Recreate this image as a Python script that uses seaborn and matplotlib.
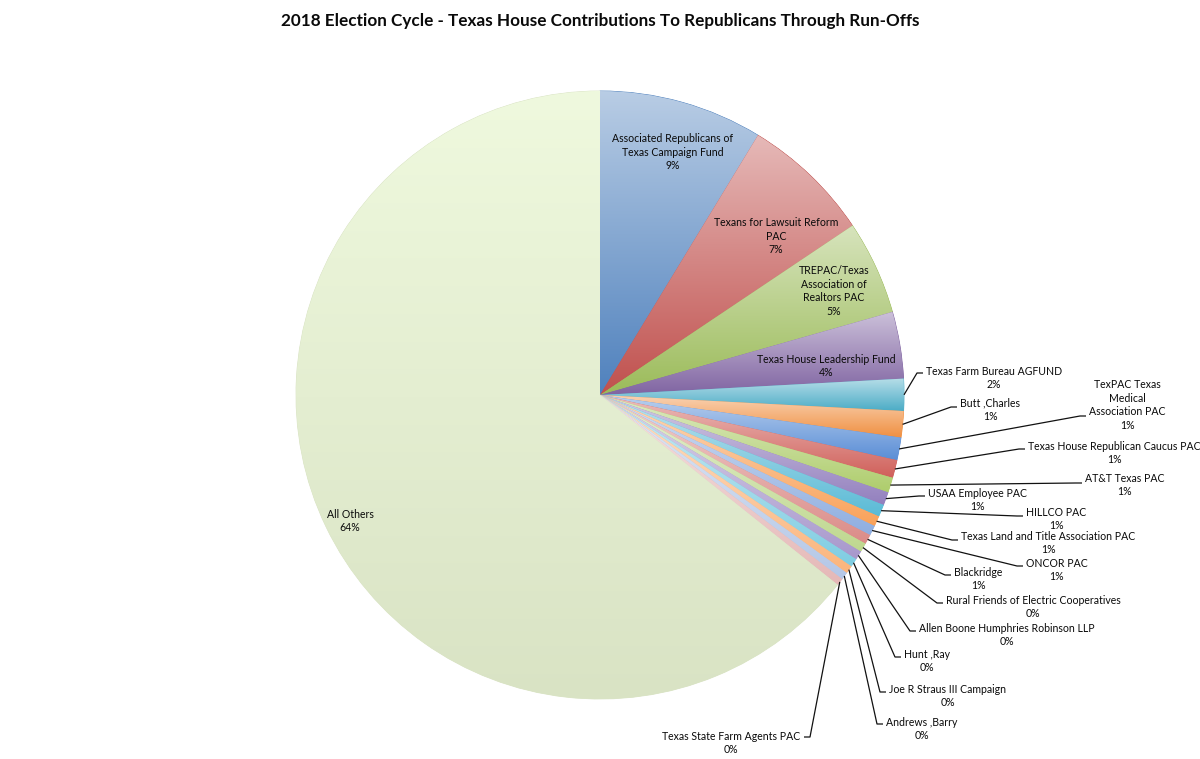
import numpy as np
import matplotlib
matplotlib.use("Agg")
import matplotlib.pyplot as plt
import seaborn as sns
from matplotlib.colors import to_rgb, LinearSegmentedColormap

sns.set_theme(style="white")
plt.rcParams['font.family'] = ['Lato', 'DejaVu Sans']

# ---------------- data ----------------
title = "2018 Election Cycle - Texas House Contributions To Republicans Through Run-Offs"
labels = [
    "Associated Republicans of\nTexas Campaign Fund",
    "Texans for Lawsuit Reform\nPAC",
    "TREPAC/Texas\nAssociation of\nRealtors PAC",
    "Texas House Leadership Fund",
    "Texas Farm Bureau AGFUND",
    "Butt ,Charles",
    "TexPAC Texas\nMedical\nAssociation PAC",
    "Texas House Republican Caucus PAC",
    "AT&T Texas PAC",
    "USAA Employee PAC",
    "HILLCO PAC",
    "Texas Land and Title Association PAC",
    "ONCOR PAC",
    "Blackridge",
    "Rural Friends of Electric Cooperatives",
    "Allen Boone Humphries Robinson LLP",
    "Hunt ,Ray",
    "Joe R Straus III Campaign",
    "Andrews ,Barry",
    "Texas State Farm Agents PAC",
    "All Others",
]
shares = [8.7, 6.9, 5.0, 3.55, 1.7, 1.4, 1.2, 0.95, 0.8, 0.7, 0.65, 0.55,
          0.53, 0.51, 0.48, 0.47, 0.45, 0.42, 0.40, 0.38, 64.3]

# ---------------- style ----------------
base_colors = ["#4F81BD", "#C0504D", "#9BBB59", "#8064A2", "#4BACC6", "#F08F40",
               "#5A8ED6", "#D0605A", "#AECD6C", "#9380BE", "#5BBBD6", "#F9A25A",
               "#8FAEE0", "#DB8C88", "#BFD88F", "#A898CC", "#7FCDE2", "#FBB57C",
               "#B4C7E7", "#E5B8B7", "#DAE4C5"]

H = 759
def P(x, y):
    return x, H - y

CX, CY, R = 600, 395, 304

fig = plt.figure(figsize=(12, 7.59), dpi=100)
ax = fig.add_axes([0, 0, 1, 1])

wedges, _ = ax.pie(shares, startangle=90, counterclock=False,
                   center=P(CX, CY), radius=R, colors=base_colors,
                   wedgeprops=dict(linewidth=0.6))
for w, c in zip(wedges, base_colors):
    w.set_edgecolor(c)

def blend(c, f):
    r = np.array(to_rgb(c))
    return tuple(r + (1 - r) * f)

grad = np.linspace(0, 1, 256)[:, None]
for i, (w, c) in enumerate(zip(wedges, base_colors)):
    v = w.get_path().vertices
    x0, x1 = v[:, 0].min(), v[:, 0].max()
    y0, y1 = v[:, 1].min(), v[:, 1].max()
    if i == len(wedges) - 1:
        bot, top = "#D9E3C4", "#EFF9DE"
    else:
        bot, top = to_rgb(c), blend(c, 0.6)
    cmap = LinearSegmentedColormap.from_list(f"g{i}", [bot, top])
    im = ax.imshow(grad, extent=(x0, x1, y0, y1), origin="lower", cmap=cmap,
                   aspect="auto", interpolation="bilinear", zorder=w.get_zorder() + 0.1)
    im.set_clip_path(w)

pct = [f"{int(s / sum(shares) * 100 + 0.5)}%" for s in shares]

fs = 7.6
TXT = "#0a0a0a"
# inside labels (center x, center y)
inside = {0: (673, 152), 1: (776, 236), 2: (834, 291), 3: (826, 366), 20: (350, 521)}
for i, (x, y) in inside.items():
    ax.text(*P(x, y), labels[i] + "\n" + pct[i], ha="center", va="center",
            multialignment="center", fontsize=fs, color=TXT, linespacing=1.3, zorder=5)

# outside labels: box left x, center y, leader elbow point
outside = {
    4: (926, 378, (917, 373)),
    5: (960, 410, (951, 407)),
    6: (1089, 405, (1080, 416)),
    7: (1028, 453, (1019, 449)),
    8: (1085, 485, (1076, 483)),
    9: (928, 500, (919, 496)),
    10: (1026, 519, (1017, 516)),
    11: (961, 543, (952, 540)),
    12: (1026, 570, (1017, 566)),
    13: (954, 579, (945, 575)),
    14: (946, 607, (937, 603)),
    15: (919, 635, (910, 631)),
    16: (904, 661, (895, 657)),
    17: (889, 696, (880, 692)),
    18: (886, 729, (877, 724)),
    19: (800, 743, (810, 737)),
}
for i, (tx, ty, (ex, ey)) in outside.items():
    w = wedges[i]
    th = np.deg2rad((w.theta1 + w.theta2) / 2)
    sx = CX + R * np.cos(th)
    sy = CY - R * np.sin(th)
    if i == 19:
        xs = [sx, ex, ex - 6]
        ha = "right"
    else:
        xs = [sx, ex, ex + 6]
        ha = "left"
    ys = [sy, ey, ey]
    ax.text(*P(tx, ty), labels[i] + "\n" + pct[i], ha=ha, va="center",
            multialignment="center", fontsize=fs, color=TXT, linespacing=1.3, zorder=5)
    ax.plot(xs, [H - y for y in ys], color="#111111", lw=0.9, zorder=4,
            solid_capstyle="butt")

ax.text(*P(600, 21), title, ha="center", va="center", fontsize=12.3,
        fontweight="bold", color="#0a0a0a")

ax.set_xlim(0, 1200)
ax.set_ylim(0, H)
ax.set_axis_off()
fig.savefig("out.png", dpi=100, facecolor="white")
